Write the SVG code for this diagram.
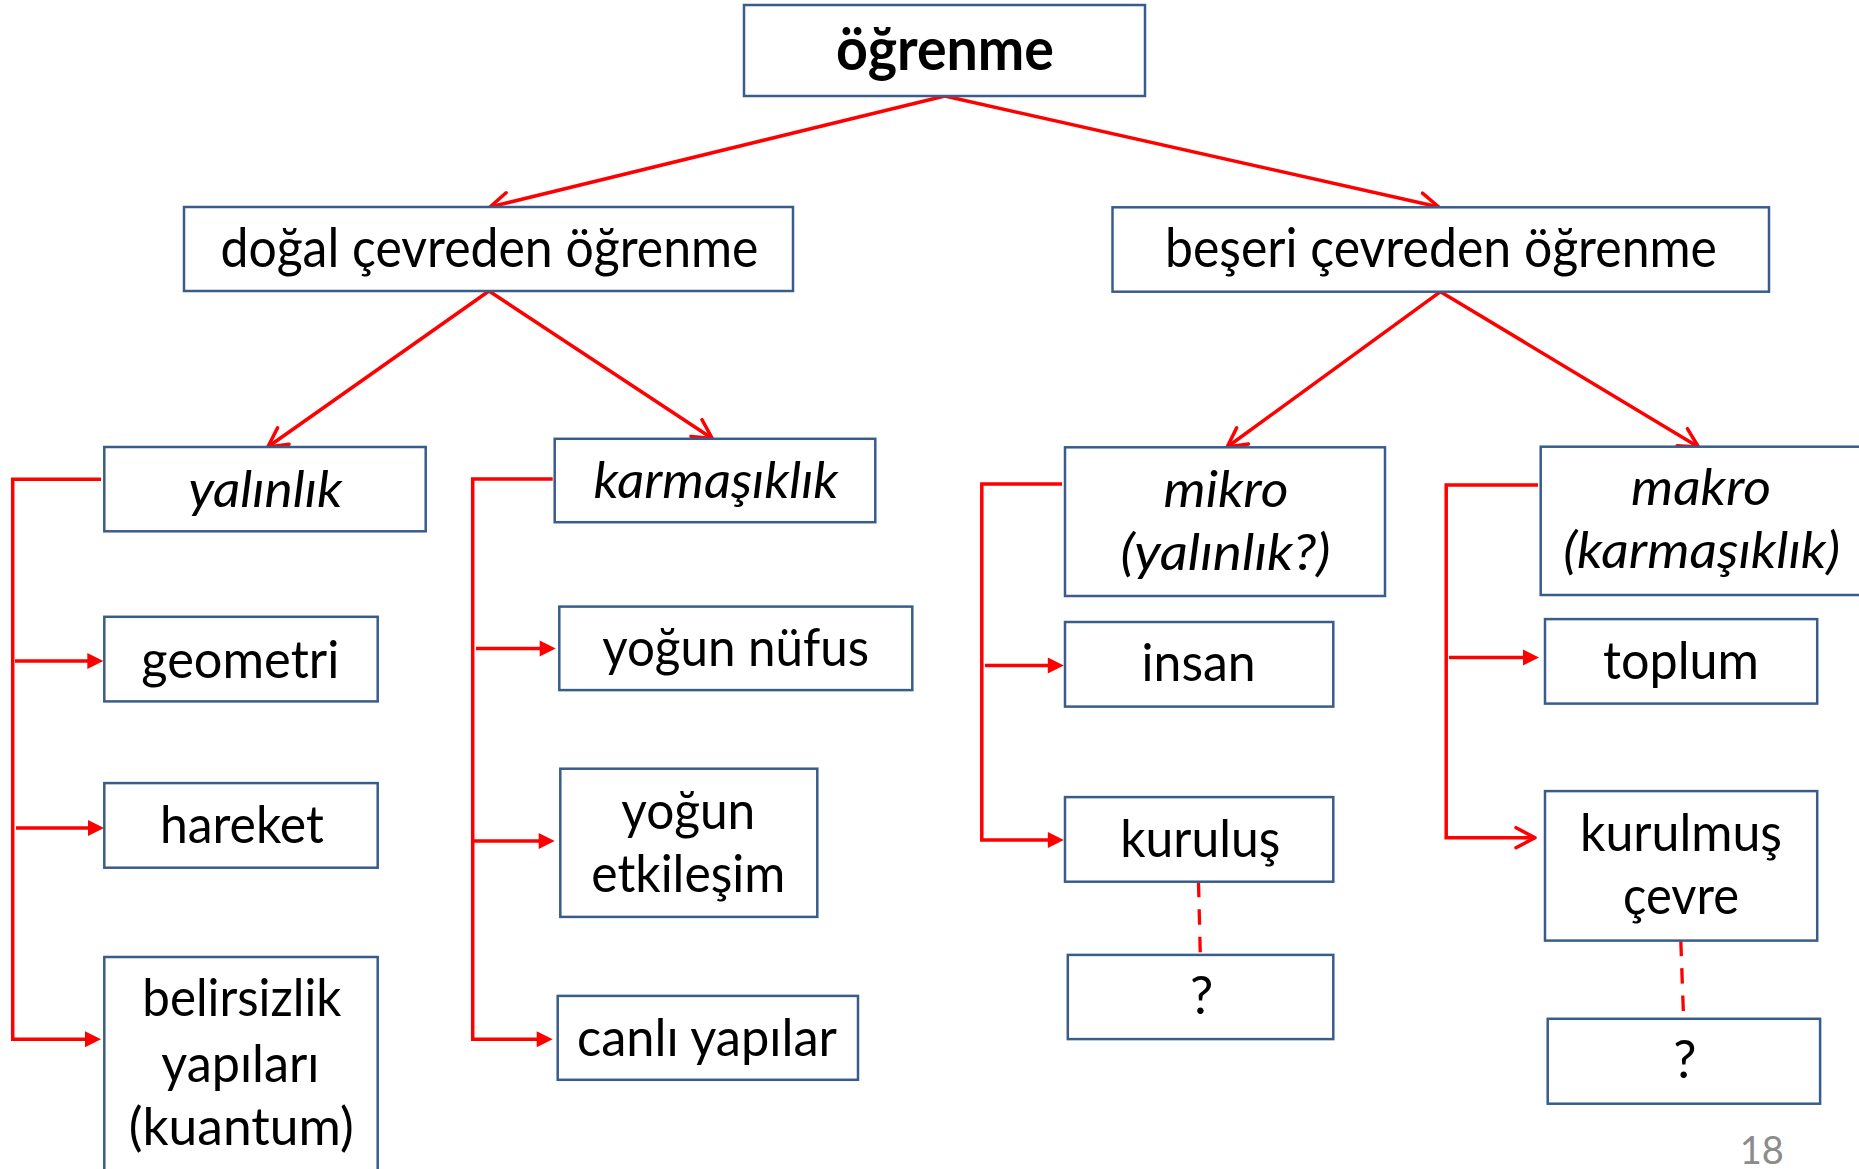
<svg xmlns="http://www.w3.org/2000/svg" width="1859" height="1169" viewBox="0 0 1859 1169">
  <style>
    .box { fill: #ffffff; stroke: #385D8A; stroke-width: 2.5; }
    .t { font-family: Lato, "Open Sans", "Liberation Sans", sans-serif; fill: #000000; text-anchor: middle; }
    .title { font-size: 60px; font-weight: bold; }
    .l1 { font-size: 54px; }
    .it { font-size: 50px; font-style: italic; }
    .lb { font-size: 52px; }
    .conn { stroke: #FF0000; stroke-width: 3.5; fill: none; }
    .dash { stroke: #FF0000; stroke-width: 3.3; fill: none; stroke-dasharray: 15.5 12; }
    .pg { font-family: Lato, "Open Sans", sans-serif; font-size: 38px; fill: #8c8c8c; text-anchor: middle; }
  </style>
  <defs>
    <marker id="open" markerUnits="userSpaceOnUse" markerWidth="30" markerHeight="30" refX="20" refY="11" orient="auto" overflow="visible">
      <path d="M1,1 L20,11 L1,21" fill="none" stroke="#FF0000" stroke-width="3.5" stroke-linecap="round" stroke-linejoin="round"/>
    </marker>
    <marker id="solid" markerUnits="userSpaceOnUse" markerWidth="20" markerHeight="20" refX="6" refY="8" orient="auto" overflow="visible">
      <path d="M0,0 L16,8 L0,16 Z" fill="#FF0000"/>
    </marker>
  </defs>

  <!-- connectors -->
  <g id="connectors">
    <path class="conn" d="M944.8,96 L490,207" marker-end="url(#open)"/>
    <path class="conn" d="M944.8,96 L1438.8,207" marker-end="url(#open)"/>
    <path class="conn" d="M489,291 L267.8,447" marker-end="url(#open)"/>
    <path class="conn" d="M489,291 L712.3,438.5" marker-end="url(#open)"/>
    <path class="conn" d="M1440.5,291.7 L1227.2,447" marker-end="url(#open)"/>
    <path class="conn" d="M1440.5,291.7 L1698.5,447" marker-end="url(#open)"/>

    <!-- yalınlık branch -->
    <path class="conn" d="M101,479.3 H12.7 V1039.2 H91" marker-end="url(#solid)"/>
    <path class="conn" d="M15,661 H93.3" marker-end="url(#solid)"/>
    <path class="conn" d="M16,828 H94" marker-end="url(#solid)"/>

    <!-- karmaşıklık branch -->
    <path class="conn" d="M552.7,478.9 H472.7 V1039.2 H542.7" marker-end="url(#solid)"/>
    <path class="conn" d="M476,648.6 H545.7" marker-end="url(#solid)"/>
    <path class="conn" d="M472.7,841 H544.7" marker-end="url(#solid)"/>

    <!-- mikro branch -->
    <path class="conn" d="M1062,484 H981.8 V840 H1053.8" marker-end="url(#solid)"/>
    <path class="conn" d="M985,665.6 H1053.8" marker-end="url(#solid)"/>

    <!-- makro branch -->
    <path class="conn" d="M1538,485 H1446.2 V837.7 H1535" marker-end="url(#open)"/>
    <path class="conn" d="M1449,657.4 H1529" marker-end="url(#solid)"/>

    <!-- open-ended links -->
    <path class="dash" d="M1198.5,881.7 L1200.3,955"/>
    <path class="dash" d="M1680.8,940.6 L1683.6,1018.8"/>
  </g>

  <g id="n-ogrenme">
    <rect class="box" x="744" y="5" width="401" height="91"/>
    <text class="t title" x="945" y="70" textLength="218" lengthAdjust="spacingAndGlyphs">öğrenme</text>
  </g>
  <g id="n-dogal">
    <rect class="box" x="184" y="207" width="609" height="84"/>
    <text class="t l1" x="489.5" y="266.7" textLength="538" lengthAdjust="spacingAndGlyphs">doğal çevreden öğrenme</text>
  </g>
  <g id="n-beseri">
    <rect class="box" x="1112.5" y="207.3" width="656.5" height="84.4"/>
    <text class="t l1" x="1441" y="266.7" textLength="552" lengthAdjust="spacingAndGlyphs">beşeri çevreden öğrenme</text>
  </g>
  <g id="n-yalinlik">
    <rect class="box" x="104.3" y="447" width="321.4" height="84.3"/>
    <text class="t it" x="265.4" y="506.5" textLength="154" lengthAdjust="spacingAndGlyphs">yalınlık</text>
  </g>
  <g id="n-karmasiklik">
    <rect class="box" x="554.7" y="438.8" width="320.6" height="83.4"/>
    <text class="t it" x="715.9" y="498" textLength="245" lengthAdjust="spacingAndGlyphs">karmaşıklık</text>
  </g>
  <g id="n-mikro">
    <rect class="box" x="1065" y="447.3" width="320" height="148.7"/>
    <text class="t it" x="1226" y="506.7" textLength="125" lengthAdjust="spacingAndGlyphs">mikro</text>
    <text class="t it" x="1225.5" y="570" textLength="210" lengthAdjust="spacingAndGlyphs">(yalınlık?)</text>
  </g>
  <g id="n-makro">
    <rect class="box" x="1540.7" y="446.7" width="330" height="148.3"/>
    <text class="t it" x="1701" y="505" textLength="140" lengthAdjust="spacingAndGlyphs">makro</text>
    <text class="t it" x="1701.7" y="568.3" textLength="277" lengthAdjust="spacingAndGlyphs">(karmaşıklık)</text>
  </g>
  <g id="n-geometri">
    <rect class="box" x="104.3" y="616.8" width="273.4" height="84.6"/>
    <text class="t lb" x="240.3" y="678" textLength="198" lengthAdjust="spacingAndGlyphs">geometri</text>
  </g>
  <g id="n-hareket">
    <rect class="box" x="104.3" y="783.1" width="273.4" height="84.6"/>
    <text class="t lb" x="241.9" y="843.3" textLength="164" lengthAdjust="spacingAndGlyphs">hareket</text>
  </g>
  <g id="n-belirsizlik">
    <rect class="box" x="104.3" y="957" width="273.4" height="230"/>
    <text class="t lb" x="241.8" y="1016.3" textLength="199" lengthAdjust="spacingAndGlyphs">belirsizlik</text>
    <text class="t lb" x="240.3" y="1081.7" textLength="158" lengthAdjust="spacingAndGlyphs">yapıları</text>
    <text class="t lb" x="241.2" y="1145.3" textLength="225" lengthAdjust="spacingAndGlyphs">(kuantum)</text>
  </g>
  <g id="n-yogun-nufus">
    <rect class="box" x="559.3" y="606.6" width="353" height="83.5"/>
    <text class="t lb" x="735.7" y="665.5" textLength="267" lengthAdjust="spacingAndGlyphs">yoğun nüfus</text>
  </g>
  <g id="n-yogun-etkilesim">
    <rect class="box" x="560.3" y="768.7" width="257" height="148.2"/>
    <text class="t lb" x="688.3" y="828.5" textLength="134" lengthAdjust="spacingAndGlyphs">yoğun</text>
    <text class="t lb" x="688.3" y="892.3" textLength="194" lengthAdjust="spacingAndGlyphs">etkileşim</text>
  </g>
  <g id="n-canli-yapilar">
    <rect class="box" x="557.7" y="995.9" width="300.3" height="83.9"/>
    <text class="t lb" x="707" y="1056.2" textLength="260" lengthAdjust="spacingAndGlyphs">canlı yapılar</text>
  </g>
  <g id="n-insan">
    <rect class="box" x="1065" y="622" width="268.3" height="84.6"/>
    <text class="t lb" x="1198.6" y="681.4" textLength="114" lengthAdjust="spacingAndGlyphs">insan</text>
  </g>
  <g id="n-kurulus">
    <rect class="box" x="1065" y="797.1" width="268.3" height="84.6"/>
    <text class="t lb" x="1200.3" y="857.2" textLength="160" lengthAdjust="spacingAndGlyphs">kuruluş</text>
  </g>
  <g id="n-q1">
    <rect class="box" x="1067.8" y="954.9" width="265.5" height="84.2"/>
    <text class="t lb" x="1201.7" y="1013.9">?</text>
  </g>
  <g id="n-toplum">
    <rect class="box" x="1545" y="619.1" width="272.2" height="84.5"/>
    <text class="t lb" x="1681" y="678.8" textLength="156" lengthAdjust="spacingAndGlyphs">toplum</text>
  </g>
  <g id="n-kurulmus-cevre">
    <rect class="box" x="1545" y="791.1" width="272.2" height="149.5"/>
    <text class="t lb" x="1681" y="850.5" textLength="202" lengthAdjust="spacingAndGlyphs">kurulmuş</text>
    <text class="t lb" x="1681" y="913.6" textLength="116" lengthAdjust="spacingAndGlyphs">çevre</text>
  </g>
  <g id="n-q2">
    <rect class="box" x="1547.7" y="1018.8" width="272.4" height="84.9"/>
    <text class="t lb" x="1685" y="1077.7">?</text>
  </g>

  <text class="pg" x="1761.7" y="1164.3">18</text>
</svg>
